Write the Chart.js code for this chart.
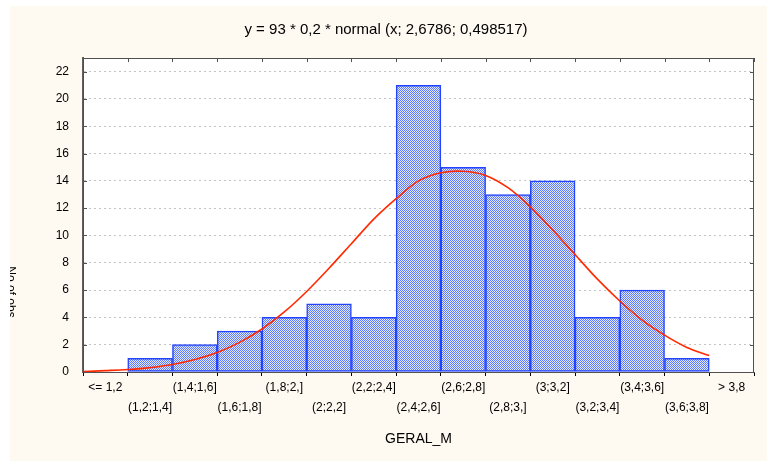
<!DOCTYPE html>
<html>
<head>
<meta charset="utf-8">
<script src="https://cdn.jsdelivr.net/npm/chart.js@4"></script>
<style>
  body { margin: 0; background: #fff; }
</style>
</head>
<body>
<canvas id="histChart" width="767" height="461"></canvas>
<script>
// Histogram data
const binLabels = ["<= 1,2", "(1,2;1,4]", "(1,4;1,6]", "(1,6;1,8]", "(1,8;2,]", "(2;2,2]", "(2,2;2,4]",
  "(2,4;2,6]", "(2,6;2,8]", "(2,8;3,]", "(3;3,2]", "(3,2;3,4]", "(3,4;3,6]", "(3,6;3,8]", "> 3,8"];
const counts = [0, 1, 2, 3, 4, 5, 4, 21, 15, 13, 14, 4, 6, 1, 0];

// Fitted normal curve
const curveX = [1.0, 1.1, 1.2, 1.3, 1.4, 1.5, 1.6, 1.7, 1.8, 1.9, 2.0, 2.1, 2.2, 2.3, 2.4,
  2.5, 2.6, 2.7, 2.8, 2.9, 3.0, 3.1, 3.2, 3.3, 3.4, 3.5, 3.6, 3.7, 3.8];
const curveY = [0.03, 0.1, 0.18, 0.32, 0.55, 0.91, 1.43, 2.17, 3.15, 4.4, 5.9, 7.6, 9.4, 11.2, 12.7,
  14.0, 14.6, 14.7, 14.4, 13.5, 12.1, 10.4, 8.6, 6.8, 5.2, 3.8, 2.7, 1.8, 1.2];

const yTicks = [0, 2, 4, 6, 8, 10, 12, 14, 16, 18, 20, 22];

// dotted blue fill like the original
function makePattern() {
  const c = document.createElement("canvas");
  c.width = 2; c.height = 2;
  const g = c.getContext("2d");
  g.fillStyle = "#e2e8ff";
  g.fillRect(0, 0, 2, 2);
  g.fillStyle = "#5f7cf2";
  g.fillRect(0, 0, 1, 1);
  g.fillRect(1, 1, 1, 1);
  return g.createPattern(c, "repeat");
}

const backdrop = {
  id: "backdrop",
  beforeDraw(chart) {
    const { ctx, chartArea: a } = chart;
    ctx.save();
    ctx.fillStyle = "#ffffff";
    ctx.fillRect(0, 0, chart.width, chart.height);
    ctx.fillStyle = "#fef9f1";
    ctx.fillRect(10, 6, chart.width - 10, chart.height - 6);
    ctx.fillStyle = "#ffffff";
    ctx.fillRect(a.left, a.top, a.right - a.left, a.bottom - a.top);
    ctx.restore();
  }
};

const frame = {
  id: "frame",
  afterDraw(chart) {
    const { ctx, chartArea: a, scales } = chart;
    ctx.save();
    ctx.strokeStyle = "#505050";
    ctx.lineWidth = 1;
    ctx.strokeRect(a.left + 0.5, a.top + 0.5, a.right - a.left - 1, a.bottom - a.top);
    ctx.beginPath();
    yTicks.forEach(v => {
      const py = Math.round(scales.y.getPixelForValue(v)) + 0.5;
      ctx.moveTo(a.right, py); ctx.lineTo(a.right - 4, py);
      ctx.moveTo(a.left, py); ctx.lineTo(a.left + 4, py);
    });
    const half = (scales.x.getPixelForValue(1) - scales.x.getPixelForValue(0)) / 2;
    for (let i = 0; i < binLabels.length; i++) {
      const px = Math.round(scales.x.getPixelForValue(i) + half) + 0.5;
      ctx.moveTo(px, a.top); ctx.lineTo(px, a.top + 4);
    }
    ctx.stroke();

    // y axis title, clipped at the left edge like the original
    ctx.beginPath();
    ctx.rect(10, 0, 80, chart.height);
    ctx.clip();
    ctx.translate(16, 292);
    ctx.rotate(Math.PI / 2);
    ctx.fillStyle = "#000";
    ctx.font = "12px 'Liberation Sans', Arial, sans-serif";
    ctx.textAlign = "center";
    ctx.textBaseline = "top";
    ctx.fillText("No of obs", 0, 0);
    ctx.restore();
  }
};

const ctx = document.getElementById("histChart").getContext("2d");

new Chart(ctx, {
  data: {
    labels: binLabels,
    datasets: [
      {
        type: "line",
        label: "normal",
        data: curveX.map((x, i) => ({ x: x, y: curveY[i] })),
        xAxisID: "xc",
        borderColor: "#ff2a00",
        borderWidth: 1.6,
        pointRadius: 0,
        tension: 0.3,
        order: 0
      },
      {
        type: "bar",
        label: "GERAL_M",
        data: counts,
        backgroundColor: makePattern(),
        borderColor: "#2244ff",
        borderWidth: 1.5,
        borderSkipped: false,
        barPercentage: 1,
        categoryPercentage: 1,
        grouped: false,
        order: 1
      }
    ]
  },
  options: {
    responsive: false,
    animation: false,
    devicePixelRatio: 1,
    layout: { padding: { left: 18, right: 13, top: 0, bottom: 0 } },
    plugins: {
      legend: { display: false },
      tooltip: { enabled: false },
      title: {
        display: true,
        text: "y = 93 * 0,2 * normal (x; 2,6786; 0,498517)",
        color: "#000",
        font: { family: "'Liberation Sans', Arial, sans-serif", size: 15, weight: "normal" },
        padding: { top: 21, bottom: 19 }
      }
    },
    scales: {
      x: {
        type: "category",
        offset: true,
        grid: { drawOnChartArea: false, drawTicks: true, tickLength: 4, color: "#000", offset: true },
        border: { color: "#505050", width: 1 },
        ticks: {
          autoSkip: false,
          maxRotation: 0,
          minRotation: 0,
          padding: 2,
          color: "#000",
          font: { family: "'Liberation Sans', Arial, sans-serif", size: 12, lineHeight: 1.667 },
          callback: function (val, i) {
            return i % 2 === 0 ? [binLabels[i]] : ["", binLabels[i]];
          }
        },
        title: {
          display: true,
          text: "GERAL_M",
          color: "#000",
          font: { family: "'Liberation Sans', Arial, sans-serif", size: 14 },
          padding: { top: 4, bottom: 13 }
        },
        afterFit: s => { s.height = 89; }
      },
      xc: {
        type: "linear",
        display: false,
        min: 1.0,
        max: 4.0
      },
      y: {
        min: 0,
        max: 23,
        afterBuildTicks: s => { s.ticks = yTicks.map(v => ({ value: v })); },
        grid: { color: "#c4c4c4", drawTicks: false },
        border: { color: "#606060", width: 2, dash: [2, 3] },
        ticks: {
          padding: 14,
          color: "#000",
          font: { family: "'Liberation Sans', Arial, sans-serif", size: 12 }
        },
        afterFit: s => { s.width = 65; }
      }
    }
  },
  plugins: [backdrop, frame]
});
</script>
</body>
</html>
